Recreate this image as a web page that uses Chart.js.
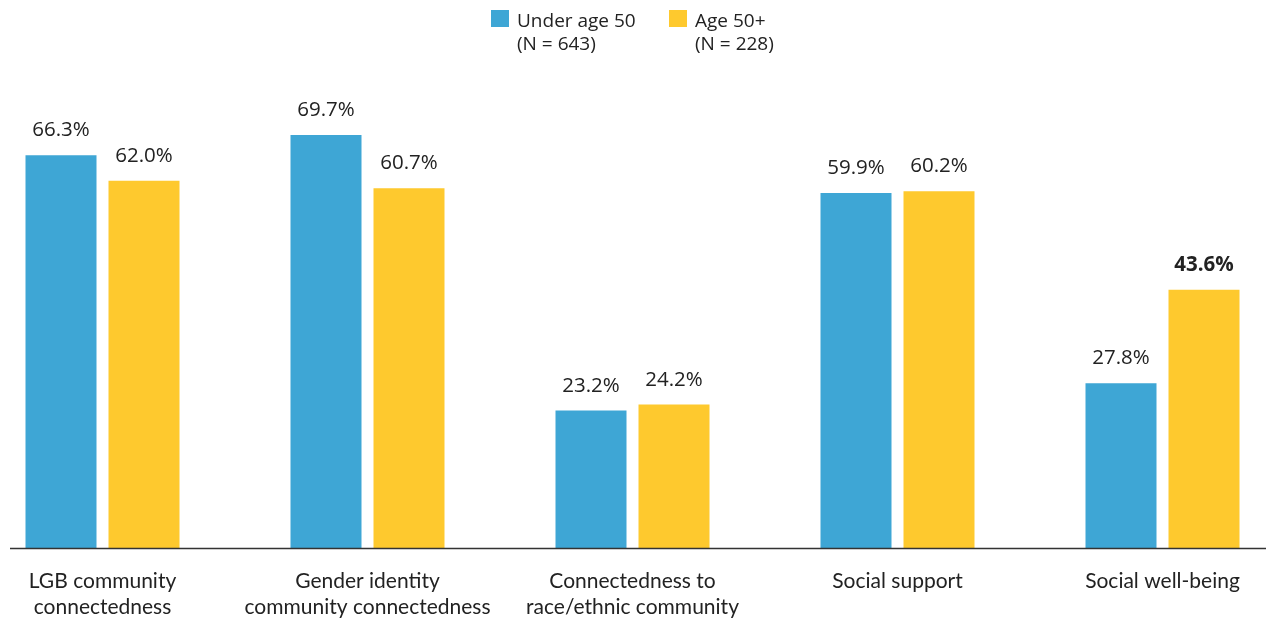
<!DOCTYPE html>
<html>
<head>
<meta charset="utf-8">
<script src="https://cdn.jsdelivr.net/npm/chart.js@4/dist/chart.umd.min.js"></script>
<style>
  html, body { margin: 0; padding: 0; background: #fff; }
  #wrap { position: relative; width: 1266px; height: 619px; overflow: hidden; }
  #c { position: absolute; left: -30px; top: 0; }
</style>
</head>
<body>
<div id="wrap"><canvas id="c" width="1325" height="619"></canvas></div>
<script>
const categories = [
  ["LGB community", "connectedness"],
  ["Gender identity", "community connectedness"],
  ["Connectedness to", "race/ethnic community"],
  ["Social support"],
  ["Social well-being"]
];
const under50 = [66.3, 69.7, 23.2, 59.9, 27.8];
const age50plus = [62.0, 60.7, 24.2, 60.2, 43.6];
const seriesNames = ["Under age 50", "Age 50+"];
const seriesNotes = ["(N = 643)", "(N = 228)"];
const boldLabels = [[false, false, false, false, false], [false, false, false, false, true]];

const SHIFT = 30;
const BLUE = '#3ea6d5';
const YELLOW = '#fec92e';
const TEXT = '#222222';

const labelPlugin = {
  id: 'labels',
  afterDatasetsDraw(chart) {
    const ctx = chart.ctx;
    ctx.save();
    ctx.fillStyle = TEXT;
    ctx.textAlign = 'center';
    ctx.textBaseline = 'alphabetic';
    chart.data.datasets.forEach((ds, di) => {
      const meta = chart.getDatasetMeta(di);
      meta.data.forEach((bar, i) => {
        ctx.font = (boldLabels[di][i] ? 'bold ' : '') + '20.5px "Open Sans"';
        ctx.fillText(ds.data[i].toFixed(1) + '%', bar.x, bar.y - 19);
      });
    });
    // baseline
    const y = chart.scales.y.getPixelForValue(0);
    ctx.strokeStyle = '#333333';
    ctx.lineWidth = 1.5;
    ctx.beginPath();
    ctx.moveTo(10 + SHIFT, y + 0.5);
    ctx.lineTo(1266 + SHIFT, y + 0.5);
    ctx.stroke();
    // legend
    const colors = [BLUE, YELLOW];
    const boxX = [491, 669];
    ctx.textAlign = 'left';
    ctx.font = '19px "Open Sans"';
    for (let k = 0; k < 2; k++) {
      ctx.fillStyle = colors[k];
      ctx.fillRect(boxX[k] + SHIFT, 10, 18, 17);
      ctx.fillStyle = TEXT;
      ctx.fillText(seriesNames[k], boxX[k] + 26 + SHIFT, 27);
      ctx.fillText(seriesNotes[k], boxX[k] + 26 + SHIFT, 50);
    }
    ctx.restore();
  }
};

new Chart(document.getElementById('c'), {
  type: 'bar',
  data: {
    labels: categories,
    datasets: [
      { label: seriesNames[0], data: under50, backgroundColor: BLUE },
      { label: seriesNames[1], data: age50plus, backgroundColor: YELLOW }
    ]
  },
  options: {
    responsive: false,
    animation: false,
    layout: { padding: { top: 74, left: 0, right: 0, bottom: 0 } },
    datasets: { bar: { categoryPercentage: 166 / 265, barPercentage: 71 / 83 } },
    plugins: { legend: { display: false }, tooltip: { enabled: false } },
    scales: {
      x: {
        grid: { display: false, drawTicks: false },
        border: { display: false },
        ticks: {
          color: TEXT,
          font: { family: 'Lato', size: 21, lineHeight: 1.2 },
          padding: 21,
          maxRotation: 0,
          autoSkip: false
        },
        afterFit(scale) { scale.height = 71; }
      },
      y: {
        display: false,
        min: 0,
        max: 80
      }
    }
  },
  plugins: [labelPlugin]
});
</script>
</body>
</html>
